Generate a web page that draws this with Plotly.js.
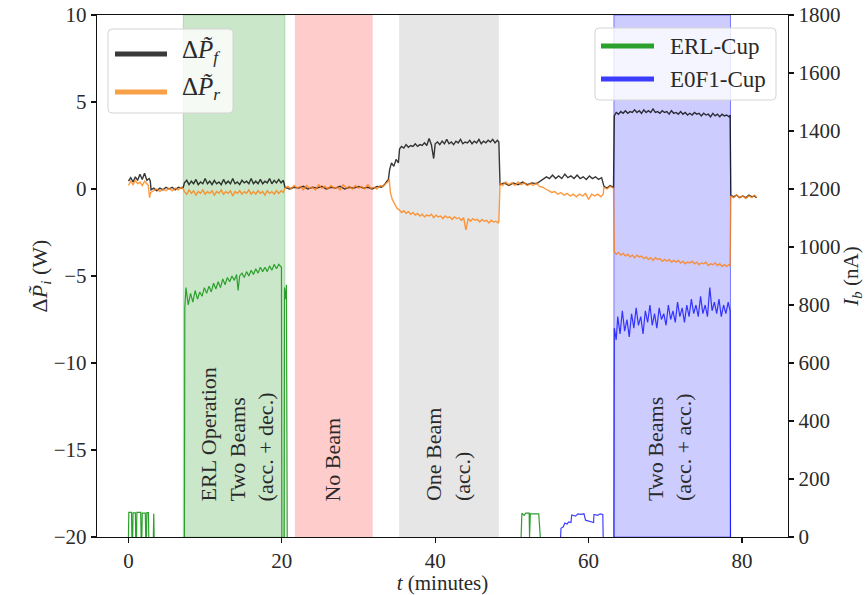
<!DOCTYPE html>
<html>
<head>
<meta charset="utf-8">
<script src="https://cdn.plot.ly/plotly-3.0.1.min.js"></script>
<style>html,body{margin:0;padding:0;background:#fff;}#chart{width:865px;height:595px;}</style>
</head>
<body>
<div id="chart"></div>
<script>
// ---- Data (time in minutes, value) ----
// ΔP_f (W), left axis
const dPf = [
 [0,0.45],[0.3,0.65],[0.6,0.4],[0.9,0.7],[1.2,0.5],[1.5,0.85],[1.8,0.55],[2.1,0.9],[2.4,0.5],[2.7,0.6],[2.85,0.45],
 [2.95,-0.05],[3.3,0.05],[3.7,-0.1],[4.1,0.05],[4.5,-0.05],[4.9,0.1],[5.3,0.0],[5.7,0.1],[6.1,-0.05],[6.5,0.1],[6.9,0.05],[7.15,0.1],
 [7.3,0.35],[7.6,0.5],[7.9,0.25],[8.2,0.45],[8.5,0.3],[8.8,0.55],[9.1,0.25],[9.4,0.4],[9.7,0.3],[10.0,0.6],[10.3,0.3],[10.6,0.45],[10.9,0.25],[11.2,0.5],[11.5,0.3],[11.8,0.4],[12.1,0.25],[12.4,0.55],[12.7,0.3],[13.0,0.45],[13.3,0.3],[13.6,0.6],[13.9,0.3],[14.2,0.4],[14.5,0.25],[14.8,0.5],[15.1,0.35],[15.4,0.45],[15.7,0.3],[16.0,0.6],[16.3,0.3],[16.6,0.45],[16.9,0.3],[17.2,0.55],[17.5,0.3],[17.8,0.45],[18.1,0.35],[18.4,0.6],[18.7,0.3],[19.0,0.5],[19.3,0.35],[19.6,0.55],[19.9,0.35],[20.2,0.5],
 [20.4,0.1],[21.0,0.0],[21.6,0.1],[22.2,0.05],[22.8,0.15],[23.4,0.0],[24.0,0.1],[24.6,0.05],[25.2,0.15],[25.8,0.0],[26.4,0.1],[27.0,0.05],[27.6,0.15],[28.2,0.0],[28.8,0.1],[29.4,0.05],[30.0,0.15],[30.6,0.05],[31.2,0.1],[31.8,0.0],[32.4,0.15],[33.0,0.1],[33.4,0.25],[33.7,0.45],[33.9,0.55],
 [34.05,1.1],[34.3,1.5],[34.6,1.3],[34.9,1.7],[35.2,1.5],
 [35.35,2.3],[35.6,2.45],[35.9,2.35],[36.2,2.55],[36.5,2.4],[36.8,2.5],[37.1,2.45],[37.4,2.6],[37.7,2.45],[38.0,2.55],[38.3,2.5],[38.6,2.65],[38.9,2.5],[39.2,2.9],[39.5,2.55],[39.8,1.75],[40.0,2.6],[40.3,2.7],[40.6,2.55],[40.9,2.75],[41.2,2.6],[41.5,2.85],[41.8,2.6],[42.1,2.7],[42.4,2.55],[42.7,2.75],[43.0,2.65],[43.3,2.85],[43.6,2.6],[43.9,2.7],[44.2,2.65],[44.5,2.8],[44.8,2.6],[45.1,2.75],[45.4,2.65],[45.7,2.85],[46.0,2.6],[46.3,2.75],[46.6,2.65],[46.9,2.8],[47.2,2.7],[47.5,2.85],[47.8,2.65],[48.1,2.8],[48.3,2.7],
 [48.45,0.25],[49.0,0.35],[49.6,0.2],[50.2,0.35],[50.8,0.25],[51.4,0.4],[52.0,0.25],[52.6,0.35],[53.2,0.3],[53.7,0.45],
 [54.1,0.55],[54.5,0.7],[54.9,0.6],[55.3,0.8],[55.7,0.6],[56.1,0.75],[56.5,0.6],[56.9,0.85],[57.3,0.65],[57.7,0.75],[58.1,0.6],[58.5,0.8],[58.9,0.6],[59.3,0.7],[59.7,0.55],[60.1,0.75],[60.5,0.6],[60.9,0.7],[61.3,0.55],[61.7,0.65],
 [62.0,0.15],[62.4,0.05],[62.8,0.2],[63.25,0.1],
 [63.35,4.2],[63.6,4.4],[63.9,4.3],[64.2,4.45],[64.5,4.35],[64.8,4.5],[65.1,4.35],[65.4,4.45],[65.7,4.4],[66.0,4.55],[66.3,4.4],[66.6,4.5],[66.9,4.35],[67.2,4.55],[67.5,4.4],[67.8,4.5],[68.1,4.4],[68.4,4.6],[68.7,4.4],[69.0,4.45],[69.3,4.35],[69.6,4.5],[69.9,4.4],[70.2,4.45],[70.5,4.3],[70.8,4.5],[71.1,4.35],[71.4,4.4],[71.7,4.3],[72.0,4.45],[72.3,4.3],[72.6,4.4],[72.9,4.25],[73.2,4.35],[73.5,4.25],[73.8,4.4],[74.1,4.3],[74.4,4.35],[74.7,4.2],[75.0,4.35],[75.3,4.25],[75.6,4.3],[75.9,4.15],[76.2,4.35],[76.5,4.2],[76.8,4.3],[77.1,4.15],[77.4,4.3],[77.7,4.2],[78.0,4.25],[78.3,4.15],[78.45,4.25],
 [78.55,-0.35],[78.9,-0.45],[79.3,-0.35],[79.7,-0.5],[80.1,-0.4],[80.5,-0.5],[80.9,-0.35],[81.3,-0.45],[81.6,-0.4],[81.9,-0.5]
];
// ΔP_r (W), left axis
const dPr = [
 [0,0.2],[0.3,0.45],[0.6,0.25],[0.9,0.5],[1.2,0.3],[1.5,0.4],[1.8,0.2],[2.1,0.45],[2.4,0.3],[2.6,0.2],[2.75,-0.5],[2.9,-0.2],
 [3.3,-0.1],[3.7,0.0],[4.1,-0.15],[4.5,0.0],[4.9,-0.1],[5.3,0.05],[5.7,-0.1],[6.1,0.05],[6.5,-0.05],[6.9,0.1],[7.15,0.0],
 [7.3,-0.15],[7.6,-0.3],[7.9,-0.05],[8.2,-0.25],[8.5,-0.1],[8.8,-0.35],[9.1,-0.15],[9.4,-0.25],[9.7,-0.05],[10.0,-0.3],[10.3,-0.15],[10.6,-0.25],[10.9,-0.1],[11.2,-0.35],[11.5,-0.15],[11.8,-0.25],[12.1,-0.05],[12.4,-0.3],[12.7,-0.15],[13.0,-0.25],[13.3,-0.1],[13.6,-0.4],[13.9,-0.15],[14.2,-0.25],[14.5,-0.1],[14.8,-0.3],[15.1,-0.15],[15.4,-0.25],[15.7,-0.05],[16.0,-0.3],[16.3,-0.15],[16.6,-0.3],[16.9,-0.1],[17.2,-0.25],[17.5,-0.15],[17.8,-0.35],[18.1,-0.1],[18.4,-0.25],[18.7,-0.15],[19.0,-0.3],[19.3,-0.1],[19.6,-0.25],[19.9,-0.1],[20.2,-0.2],
 [20.4,0.05],[20.8,0.15],[21.2,0.0],[21.6,0.2],[22.0,0.05],[22.4,0.15],[22.8,-0.05],[23.2,0.2],[23.6,0.05],[24.0,0.1],[24.4,-0.05],[24.8,0.25],[25.2,0.05],[25.6,0.15],[26.0,0.0],[26.4,0.2],[26.8,0.05],[27.2,0.1],[27.6,-0.05],[28.0,0.25],[28.4,0.05],[28.8,0.15],[29.2,0.0],[29.6,0.2],[30.0,0.05],[30.4,0.15],[30.8,0.0],[31.2,0.25],[31.6,0.05],[32.0,0.1],[32.4,0.0],[32.8,0.2],[33.2,0.15],[33.5,0.3],[33.8,0.4],[34.0,0.55],
 [34.15,-0.2],[34.4,-0.6],[34.7,-0.9],[35.0,-1.1],[35.3,-1.2],
 [35.6,-1.35],[35.9,-1.25],[36.2,-1.4],[36.5,-1.3],[36.8,-1.45],[37.1,-1.35],[37.4,-1.5],[37.7,-1.4],[38.0,-1.55],[38.3,-1.45],[38.6,-1.6],[38.9,-1.5],[39.2,-1.55],[39.5,-1.45],[39.8,-1.65],[40.1,-1.5],[40.4,-1.6],[40.7,-1.55],[41.0,-1.7],[41.3,-1.55],[41.6,-1.65],[41.9,-1.6],[42.2,-1.75],[42.5,-1.6],[42.8,-1.7],[43.1,-1.65],[43.4,-1.8],[43.7,-1.65],[44.0,-2.35],[44.3,-1.7],[44.6,-1.85],[44.9,-1.7],[45.2,-1.8],[45.5,-1.75],[45.8,-1.9],[46.1,-1.75],[46.4,-1.85],[46.7,-1.8],[47.0,-1.95],[47.3,-1.8],[47.6,-1.9],[47.9,-1.85],[48.2,-1.95],[48.3,-1.85],
 [48.45,0.35],[48.8,0.2],[49.2,0.4],[49.6,0.25],[50.0,0.35],[50.4,0.2],[50.8,0.4],[51.2,0.25],[51.6,0.35],[52.0,0.2],[52.4,0.3],[52.8,0.2],[53.2,0.35],[53.6,0.15],[54.0,0.1],
 [54.4,0.0],[54.8,-0.1],[55.2,-0.2],[55.6,-0.15],[56.0,-0.3],[56.4,-0.2],[56.8,-0.35],[57.2,-0.25],[57.6,-0.4],[58.0,-0.3],[58.4,-0.45],[58.8,-0.3],[59.2,-0.4],[59.6,-0.25],[60.0,-0.6],[60.4,-0.3],[60.8,-0.4],[61.2,-0.3],[61.6,-0.45],[61.9,-0.3],
 [62.0,0.1],[62.4,0.0],[62.8,0.15],[63.25,0.05],
 [63.35,-3.6],[63.6,-3.75],[63.9,-3.65],[64.2,-3.8],[64.5,-3.7],[64.8,-3.85],[65.1,-3.75],[65.4,-3.9],[65.7,-3.8],[66.0,-3.95],[66.3,-3.8],[66.6,-3.9],[66.9,-3.85],[67.2,-4.0],[67.5,-3.9],[67.8,-4.05],[68.1,-3.95],[68.4,-4.1],[68.7,-3.95],[69.0,-4.05],[69.3,-4.0],[69.6,-4.15],[69.9,-4.05],[70.2,-4.15],[70.5,-4.05],[70.8,-4.2],[71.1,-4.1],[71.4,-4.2],[71.7,-4.1],[72.0,-4.25],[72.3,-4.15],[72.6,-4.3],[72.9,-4.2],[73.2,-4.25],[73.5,-4.15],[73.8,-4.3],[74.1,-4.2],[74.4,-4.35],[74.7,-4.25],[75.0,-4.3],[75.3,-4.2],[75.6,-4.4],[75.9,-4.3],[76.2,-4.35],[76.5,-4.25],[76.8,-4.4],[77.1,-4.3],[77.4,-4.45],[77.7,-4.35],[78.0,-4.45],[78.3,-4.35],[78.45,-4.45],
 [78.55,-0.4],[78.9,-0.5],[79.3,-0.35],[79.7,-0.5],[80.1,-0.4],[80.5,-0.55],[80.9,-0.4],[81.3,-0.5],[81.6,-0.35],[81.9,-0.45]
];
// ERL-Cup current (nA), right axis; null = gap
const erlCup = [
 [0,0],[0.05,85],[0.4,85],[0.45,0],[0.55,0],[0.6,83],[0.9,83],[0.95,0],[1.05,0],[1.1,85],[1.6,85],[1.65,0],[1.75,0],[1.8,82],[2.2,82],[2.25,0],[2.35,0],[2.4,84],[2.6,84],[2.65,0],null,
 [3.25,0],[3.3,80],[3.35,0],null,
 [7.3,0],[7.35,790],[7.5,860],[7.8,800],[8.1,840],[8.4,810],[8.7,850],[9.0,820],[9.3,845],[9.6,830],[9.9,860],[10.2,840],[10.5,865],[10.8,845],[11.1,875],[11.4,855],[11.7,880],[12.0,860],[12.3,890],[12.6,870],[12.9,895],[13.2,880],[13.5,900],[13.8,885],[14.1,905],[14.3,850],[14.5,900],[14.8,910],[15.1,895],[15.4,915],[15.7,900],[16.0,920],[16.3,905],[16.6,925],[16.9,910],[17.2,930],[17.5,915],[17.8,930],[18.1,915],[18.4,935],[18.7,920],[19.0,940],[19.3,925],[19.6,940],[19.95,930],[20.0,0],null,
 [20.3,0],[20.35,860],[20.5,820],[20.6,870],[20.7,0],null,
 [51.2,0],[51.3,82],[51.6,75],[51.8,82],[52.25,82],[52.3,0],[52.4,80],[53.5,80],[53.7,0]
];
// E0F1-Cup current (nA), right axis
const e0f1Cup = [
 [56.35,0],[56.4,30],[56.7,35],[56.9,48],[57.2,45],[57.4,52],[57.7,50],[57.8,76],[58.3,72],[58.6,80],[59.0,78],[59.4,80],[59.6,58],[60.0,55],[60.4,52],[60.65,50],[60.7,78],[61.2,75],[61.5,80],[61.85,78],[61.9,0],null,
 [63.3,0],[63.35,720],[63.6,680],[63.8,760],[64.1,700],[64.4,780],[64.7,710],[65.0,750],[65.3,690],[65.6,770],[65.9,720],[66.2,790],[66.5,730],[66.8,760],[67.1,700],[67.4,780],[67.7,740],[68.0,800],[68.3,730],[68.6,770],[68.9,720],[69.2,790],[69.5,750],[69.8,770],[70.1,730],[70.4,800],[70.7,750],[71.0,780],[71.3,740],[71.6,810],[71.9,760],[72.2,790],[72.5,740],[72.8,800],[73.1,760],[73.4,820],[73.7,770],[74.0,800],[74.3,760],[74.6,830],[74.9,770],[75.2,800],[75.5,760],[75.8,860],[76.1,780],[76.4,810],[76.7,770],[77.0,820],[77.3,760],[77.6,800],[77.9,770],[78.2,810],[78.45,780],[78.5,0]
];
// Shaded operating regions (start, end in minutes)
const regionStart = [7.15, 21.7, 35.3, 63.3];
const regionEnd   = [20.4, 31.85, 48.3, 78.5];
const regionLabels = ['ERL Operation<br>Two Beams<br>(acc. + dec.)', 'No Beam', 'One Beam<br>(acc.)', 'Two Beams<br>(acc. + acc.)'];
const labelX = [14.2, 26.6, 41.6, 70.6];
const xTicks = [0, 20, 40, 60, 80];
// Legend entries
const legendNamesLeft  = ['Δ<i>P̃</i><sub><i>f</i></sub>', 'Δ<i>P̃</i><sub><i>r</i></sub>'];
const legendNamesRight = ['ERL-Cup', 'E0F1-Cup'];

// ---- Styling ----
const FONT = 'Liberation Serif, Times New Roman, serif';
const TXT = '#2a2a2a';
const fills = ['rgba(44,160,44,0.25)', 'rgba(255,0,0,0.2)', 'rgba(128,128,128,0.2)', 'rgba(0,0,255,0.2)'];
const edges = ['rgba(44,160,44,0.25)', 'rgba(255,0,0,0)', 'rgba(128,128,128,0)', 'rgba(40,40,255,0.55)'];
const cBlack = 'rgba(0,0,0,0.78)', cOrange = 'rgba(255,127,14,0.8)', cGreen = '#2ca02c', cBlue = 'rgba(0,0,255,0.75)';
const legColorsLeft = ['#3a3a3a', '#f7a048'];
const legColorsRight = [cGreen, '#3c3cff'];

const xs = a => a.map(p => p ? p[0] : null);
const ys = a => a.map(p => p ? p[1] : null);

const traces = [
  {x: xs(dPf), y: ys(dPf), type: 'scatter', mode: 'lines', line: {color: cBlack, width: 1.4}, yaxis: 'y'},
  {x: xs(dPr), y: ys(dPr), type: 'scatter', mode: 'lines', line: {color: cOrange, width: 1.4}, yaxis: 'y'},
  {x: xs(erlCup), y: ys(erlCup), type: 'scatter', mode: 'lines', line: {color: cGreen, width: 1.2}, yaxis: 'y2', connectgaps: false},
  {x: xs(e0f1Cup), y: ys(e0f1Cup), type: 'scatter', mode: 'lines', line: {color: cBlue, width: 1.2}, yaxis: 'y2', connectgaps: false}
];

const shapes = regionStart.map((s, i) => ({
  type: 'rect', xref: 'x', yref: 'paper', x0: s, x1: regionEnd[i], y0: 0, y1: 1,
  fillcolor: fills[i], line: {color: edges[i], width: 1}, layer: 'below'
}));

const annotations = regionLabels.map((t, i) => ({
  text: t, x: labelX[i], y: -18.05, xref: 'x', yref: 'y', textangle: -90,
  xanchor: 'center', yanchor: 'bottom', align: 'left', showarrow: false,
  font: {family: FONT, size: 22, color: TXT}
}));

// ---- Hand-built legends (matplotlib style boxes) in paper coords ----
const PW = 691, PH = 522, PL = 97, PT = 15;
const px = v => (v - PL) / PW;
const py = v => 1 - (v - PT) / PH;
function roundBox(x0, x1, yTop, yBot, r) {
  const dx = r / PW, dy = r / PH;
  const a = px(x0), b = px(x1), t = py(yTop), u = py(yBot);
  return `M${a+dx},${t} L${b-dx},${t} Q${b},${t} ${b},${t-dy} L${b},${u+dy} Q${b},${u} ${b-dx},${u} L${a+dx},${u} Q${a},${u} ${a},${u+dy} L${a},${t-dy} Q${a},${t} ${a+dx},${t} Z`;
}
function addLegend(box, lineX, textX, rowsY, names, colors, textDy, fsize) {
  shapes.push({type: 'path', xref: 'paper', yref: 'paper', path: roundBox(box[0], box[1], box[2], box[3], 4),
    fillcolor: 'rgba(255,255,255,0.8)', line: {color: '#d4d4d4', width: 1}, layer: 'above'});
  names.forEach((n, i) => {
    shapes.push({type: 'line', xref: 'paper', yref: 'paper', x0: px(lineX[0]), x1: px(lineX[1]),
      y0: py(rowsY[i]), y1: py(rowsY[i]), line: {color: colors[i], width: 5}, layer: 'above'});
    annotations.push({text: n, xref: 'paper', yref: 'paper', x: px(textX), y: py(rowsY[i] + textDy),
      xanchor: 'left', yanchor: 'middle', showarrow: false, font: {family: FONT, size: fsize, color: TXT}});
  });
}
addLegend([108, 233, 29, 113], [115, 167], 180, [54, 92], legendNamesLeft, legColorsLeft, -3, 25);
addLegend([595, 776, 28, 100], [601, 654], 668, [46, 79], legendNamesRight, legColorsRight, 0, 23);

const axisCommon = {
  showline: true, linecolor: '#111', linewidth: 1.2, ticks: 'outside', ticklen: 5, tickwidth: 1.2, tickcolor: '#111',
  showgrid: false, zeroline: false, tickfont: {family: FONT, size: 21, color: TXT}
};

const layout = {
  width: 865, height: 595,
  margin: {l: 97, r: 77, t: 15, b: 58},
  paper_bgcolor: '#fff', plot_bgcolor: '#fff',
  font: {family: FONT, size: 21, color: TXT},
  showlegend: false,
  xaxis: Object.assign({}, axisCommon, {range: [-4.1, 86.0], tickvals: xTicks, mirror: true,
    title: {text: '<i>t</i> (minutes)', font: {family: FONT, size: 21, color: TXT}, standoff: 4}}),
  yaxis: Object.assign({}, axisCommon, {range: [-20, 10], dtick: 5, tick0: 0,
    title: {text: 'Δ<i>P̃</i><sub><i>i</i></sub> (W)', font: {family: FONT, size: 22, color: TXT}, standoff: 0}}),
  yaxis2: Object.assign({}, axisCommon, {range: [0, 1800], dtick: 200, tick0: 0, overlaying: 'y', side: 'right',
    title: {text: '<i>I</i><sub><i>b</i></sub> (nA)', font: {family: FONT, size: 21, color: TXT}, standoff: 2}}),
  shapes: shapes,
  annotations: annotations,
  hovermode: false
};

Plotly.newPlot('chart', traces, layout, {staticPlot: true, displayModeBar: false});
</script>
</body>
</html>
